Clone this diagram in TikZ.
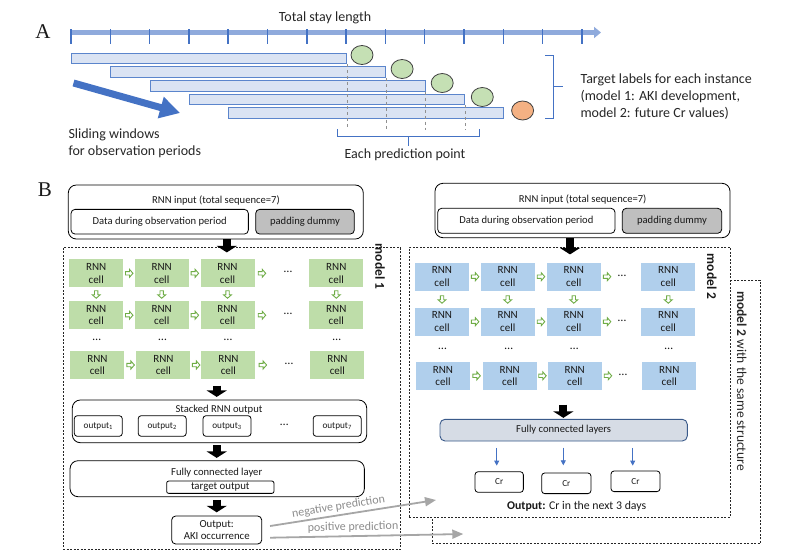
\documentclass[tikz,border=0pt]{standalone}
\usepackage{fontspec}
\setmainfont{Carlito}
\newfontfamily\serifA{Liberation Serif}
\usetikzlibrary{arrows.meta,calc,shapes.geometric}
\newcommand\fsz[2]{\fontsize{#1}{#2}\selectfont}
\definecolor{axisblue}{HTML}{8FAADC}
\definecolor{tickblue}{HTML}{4472C4}
\definecolor{barfill}{HTML}{DAE3F3}
\definecolor{bardraw}{HTML}{5B85CC}
\definecolor{greenc}{HTML}{C5E0B4}
\definecolor{orangec}{HTML}{F4B183}
\definecolor{cellgreen}{HTML}{BEDDA9}
\definecolor{cellblue}{HTML}{B0CFEC}
\definecolor{arrgreen}{HTML}{70AD47}
\definecolor{padgray}{HTML}{BFBFBF}
\definecolor{fcfill}{HTML}{D6DCE5}
\definecolor{fcdraw}{HTML}{3A5A8A}
\definecolor{predgray}{HTML}{A6A6A6}
\definecolor{predtext}{HTML}{8C8C8C}
\definecolor{dashgray}{HTML}{909090}
\tikzset{
  every node/.style={font=\fsz{10.6}{12}, text=black!90},
  lbl13/.style={font=\fsz{14}{17}, text=black!85},
  bar/.style={draw=bardraw, fill=barfill, line width=0.8pt, inner sep=0, anchor=north west},
  ell/.style={ellipse, draw=black!75, line width=0.8pt, minimum width=22, minimum height=19, inner sep=0},
  dbox/.style={draw=black!85, dash pattern=on 2pt off 1.5pt, line width=0.7pt, inner sep=0, anchor=north west},
  rbox/.style={draw=black, line width=0.8pt, inner sep=0},
  gcell/.style={fill=cellgreen, minimum width=54, minimum height=28, inner sep=0, align=center, font=\fsz{11}{12.5}},
  bcell/.style={fill=cellblue, minimum width=54, minimum height=28, inner sep=0, align=center, font=\fsz{11}{12.5}},
  dots/.style={font=\fsz{12}{12}},
  garr/.style={draw=arrgreen, fill=white, line width=0.9pt, line join=miter},
  blk/.style={black, line width=8pt, -{Triangle[length=6.5pt,width=20pt]}},
  obox/.style={rbox, rounded corners=3pt, minimum width=48, minimum height=20.6, font=\fsz{9.2}{10}},
  crbox/.style={rbox, rounded corners=3pt, minimum height=20.6, font=\fsz{9.2}{10}},
  bluearr/.style={tickblue, line width=0.8pt, -{Triangle[length=5pt,width=5pt]}},
  grayarr/.style={predgray, line width=1.8pt, -{Triangle[length=11pt,width=9pt]}},
  pics/rarr/.style={code={\draw[garr] (-3.5,-1.7) -- (0.5,-1.7) -- (0.5,-4) -- (4,0) -- (0.5,4) -- (0.5,1.7) -- (-3.5,1.7) -- cycle;}},
  pics/darr/.style={code={\draw[garr] (-1.7,-3.5) -- (-1.7,0.5) -- (-4,0.5) -- (0,4) -- (4,0.5) -- (1.7,0.5) -- (1.7,-3.5) -- cycle;}}
}
\begin{document}
\begin{tikzpicture}[x=1pt,y=-1pt]
\useasboundingbox (0,0) rectangle (800,555);

% ---------------- Part A ----------------
\node[font=\serifA\fsz{21}{24}] (lblA) at (43,32) {A};
\node[lbl13] (tsl) at (325,18) {Total stay length};
\draw[line width=5pt, axisblue, -{Triangle[length=7pt,width=11pt]}] (70,32.5) coordinate (ax0) -- (601,32.5) coordinate (ax1);
\foreach \i in {0,...,13} \draw[tickblue, line width=1.5pt] ({71.0+39.3*\i},29) -- ({71.0+39.3*\i},44);

\foreach \k in {0,...,4} \node[bar, minimum width=275.1, minimum height=10.7] (bar\k) at ({71.0+39.3*\k},{52.7+13.65*\k}) {};
\foreach \k in {0,...,3} \node[ell, fill=greenc] (c\k) at ({362+40.1*\k},{55+14*\k}) {};
\node[ell, fill=orangec] (c4) at (522.6,110.5) {};

\coordinate (dashbot) at (0,130);
\foreach \k in {0,...,3} \draw[dashgray, dashed, line width=0.6pt] (bar\k.south east) -- (bar\k.south east |- dashbot);

\draw[tickblue, line width=0.9pt] (337,129) -- (337,136) -- (479.5,136) -- (479.5,129);
\draw[tickblue, line width=0.9pt] (408.3,136) -- (408.3,145.5);
\node[lbl13] (epp) at (405,155) {Each prediction point};

\draw[tickblue, line width=0.9pt] (545,55) -- (553,55) -- (553,118) -- (545,118);
\draw[tickblue, line width=0.9pt] (553,86.7) -- (563,86.7);
\node[lbl13, align=left, anchor=west] (tgt) at (577,97) {Target labels for each instance\\(model 1: AKI development,\\model 2: future Cr values)};

\draw[tickblue, line width=7pt, -{Triangle[length=20pt,width=21pt]}] (73.5,83) coordinate (sw0) -- (180,113) coordinate (sw1);
\node[lbl13, align=left, anchor=west] (slw) at (65,143.5) {Sliding windows\\for observation periods};

% ---------------- Part B ----------------
\node[font=\serifA\fsz{21}{24}] (lblB) at (45,190) {B};

% dashed frames
\node[dbox, minimum width=337.3, minimum height=301.7] (m1) at (62.7,247.3) {};
\node[dbox, minimum width=328.3, minimum height=263.3] (m2s) at (431.7,280) {};
\node[dbox, fill=white, minimum width=321, minimum height=270] (m2) at (409,246.7) {};

\node[rotate=-90, font=\bfseries\fsz{13.5}{15}] (m1l) at (380,266.7) {model 1};
\node[rotate=-90, font=\bfseries\fsz{13.5}{15}] (m2l) at (711.7,276.7) {model 2};
\node[rotate=-90, font=\fsz{13.5}{15}, text=black!85] (m2sl) at (741.7,381) {\textbf{model 2} with the same structure};

% ----- model 1 input
\node[rbox, rounded corners=8pt, minimum width=295, minimum height=54, fill=white] (in1) at (215.8,212) {};
\node (in1t) at (216,200.7) {RNN input (total sequence=7)};
\node[rbox, rounded corners=4pt, minimum width=177.3, minimum height=24.7] (d1) at (159.7,221.7) {Data during observation period};
\node[rbox, fill=padgray, rounded corners=4pt, minimum width=98.6, minimum height=24.7] (p1) at (305,221.7) {padding dummy};
\draw[blk] ($(in1.south)+(11,0)$) -- ++(0,13);

% ----- model 1 cells
\foreach \r/\y in {1/273.3,2/315.2} {
  \foreach \c/\x in {1/96.2,2/161.7,3/227.5,4/336.3} {
    \node[gcell] (g\r\c) at (\x,\y) {RNN\\cell};
  }
}
\foreach \c/\x in {1/97.4,2/163.4,3/228.4,4/337.4} \node[gcell] (g3\c) at (\x,365) {RNN\\cell};
\foreach \r in {1,2,3} {
  \pic at ($(g\r1.east)!0.5!(g\r2.west)$) {rarr};
  \pic at ($(g\r2.east)!0.5!(g\r3.west)$) {rarr};
  \pic at ($(g\r3.east)+(7,0)$) {rarr};
  \node[dots] (gd\r) at ($(g\r3.east)!0.5!(g\r4.west)+(6,-1)$) {…};
}
\foreach \c in {1,...,4} {
  \pic at ($(g1\c.south)!0.5!(g2\c.north)$) {darr};
  \node[dots] (gv\c) at ($(g2\c.south)!0.5!(g3\c.north)$) {…};
}

% ----- stacked output
\node[rbox, rounded corners=8pt, minimum width=294.4, minimum height=42.7] (st1) at (219.5,421.35) {};
\node (st1t) at (219,409.3) {Stacked RNN output};
\foreach \i/\x/\s in {1/98.3/1,2/162.2/2,3/227/3,4/337.2/7} \node[obox] (o\i) at (\x,426) {output\textsubscript{\s}};
\node[dots] (od) at (284.3,424.5) {…};
\draw[blk] ($(st1.north)+(-2.8,-14)$) -- ($(st1.north)+(-2.8,-2.7)$);

% ----- fully connected layer
\node[rbox, rounded corners=8pt, minimum width=294.3, minimum height=36] (fc1) at (217.2,478.7) {};
\node (fc1t) at (216.7,473) {Fully connected layer};
\node[rbox, rounded corners=2pt, minimum width=107.3, minimum height=12.3, font=\fsz{10.8}{12}] (tg1) at (220.3,487.2) {target output};
\draw[blk] ($(st1.south)+(-2.8,2.3)$) -- ($(fc1.north)+(-0.5,-2.4)$);

\node[rbox, rounded corners=4pt, minimum width=90, minimum height=28, align=center, font=\fsz{10.8}{12.7}] (out1) at (216.7,530) {Output:\\AKI occurrence};
\draw[blk] ($(fc1.south)+(-0.5,2.6)$) -- ($(out1.north)+(0,-3.3)$);

% ----- model 2 input
\node[rbox, rounded corners=8pt, minimum width=295, minimum height=54.4, fill=white] (in2) at (582.5,210.5) {};
\node (in2t) at (582.7,199.3) {RNN input (total sequence=7)};
\node[rbox, rounded corners=4pt, minimum width=177.3, minimum height=25] (d2) at (526.35,220.8) {Data during observation period};
\node[rbox, fill=padgray, rounded corners=4pt, minimum width=99.4, minimum height=25] (p2) at (672,220.8) {padding dummy};
\draw[blk] ($(in2.south)+(-12.5,0.3)$) -- ++(0,16);

% ----- model 2 cells
\foreach \r/\y in {1/276.7,2/321.7} {
  \foreach \c/\x in {1/442,2/507.7,3/573.8,4/668.3} {
    \node[bcell] (b\r\c) at (\x,\y) {RNN\\cell};
  }
}
\foreach \c/\x in {1/443,2/509.7,3/574.7,4/669.3} \node[bcell] (b3\c) at (\x,375.8) {RNN\\cell};
\foreach \r in {1,2,3} {
  \pic at ($(b\r1.east)!0.5!(b\r2.west)$) {rarr};
  \pic at ($(b\r2.east)!0.5!(b\r3.west)$) {rarr};
  \pic at ($(b\r3.east)+(5.8,0)$) {rarr};
  \node[dots] (bd\r) at ($(b\r3.east)+(21,-1)$) {…};
}
\foreach \c in {1,...,4} {
  \pic at ($(b1\c.south)!0.5!(b2\c.north)$) {darr};
  \node[dots] (bv\c) at ($(b2\c.south)!0.5!(b3\c.north)$) {…};
}

% ----- model 2 FC and outputs
\node[draw=fcdraw, fill=fcfill, line width=0.9pt, rounded corners=5pt, minimum width=247.3, minimum height=21.7, inner sep=0] (fc2) at (563.65,430.15) {Fully connected layers};
\draw[blk] ($(fc2.north)+(-0.3,-14.3)$) -- ($(fc2.north)+(-0.3,-1)$);

\node[crbox, minimum width=48.3] (cr1) at (499.2,482) {Cr};
\node[crbox, minimum width=49.3] (cr2) at (566.3,483.3) {Cr};
\node[crbox, minimum width=49] (cr3) at (635.5,481.3) {Cr};
\draw[bluearr] ($(cr1.north)+(-2.5,-23.4)$) -- ($(cr1.north)+(-2.5,-5.7)$);
\draw[bluearr] ($(cr2.north)+(-3,-25)$) -- ($(cr2.north)+(-3,-7.3)$);
\draw[bluearr] ($(cr3.north)+(-2.8,-22.7)$) -- ($(cr3.north)+(-2.8,-5)$);
\node[font=\fsz{11.8}{13}] (outcr) at (576.7,506.7) {\textbf{Output:} Cr in the next 3 days};

% ----- prediction arrows
\coordinate (negend) at (436,500);
\coordinate (posend) at (463.3,534);
\draw[grayarr] ($(out1.east)+(8,-4)$) -- (negend) node[pos=0.42, above=-1pt, sloped, font=\fsz{12}{13}, text=predtext] (negl) {negative prediction};
\draw[grayarr] ($(out1.east)+(8,7.7)$) -- (posend) node[pos=0.43, above=-0.5pt, sloped, font=\fsz{12}{13}, text=predtext] (posl) {positive prediction};
\end{tikzpicture}
\end{document}
